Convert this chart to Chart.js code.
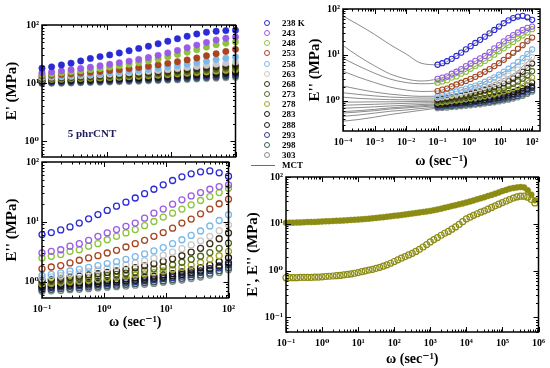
<!DOCTYPE html>
<html>
<head>
<meta charset="utf-8">
<script src="https://cdn.jsdelivr.net/npm/chart.js@4"></script>
<style>
html, body { margin: 0; padding: 0; background: #fff; }
body { width: 550px; height: 368px; position: relative; overflow: hidden; }
canvas { position: absolute; }
.row { position: absolute; left: 262px; height: 10px; line-height: 10px; white-space: nowrap;
       font: bold 9px 'Liberation Serif', 'DejaVu Serif', serif; color: #000; }
.dot { position: absolute; left: 2px; top: 2px; width: 4px; height: 4px; border-radius: 50%; border: 1.3px solid; }
.lbl { position: absolute; left: 20px; top: 0; }
</style>
</head>
<body>
<canvas id="tl" width="240" height="166" style="left:0;top:0"></canvas>
<canvas id="bl" width="240" height="192" style="left:0;top:140px"></canvas>
<canvas id="tr" width="250" height="170" style="left:300px;top:0"></canvas>
<canvas id="br" width="310" height="200" style="left:240px;top:168px"></canvas>
<div id="legend"></div>
<script>
// frequency of the isothermal sweeps (rad/s)
const freq = [0.1, 0.141, 0.2, 0.282, 0.398, 0.562, 0.794, 1.12, 1.58, 2.24, 3.16, 4.47, 6.31, 8.91, 12.6, 17.8, 25.1, 35.5, 50.1, 70.8, 100];
const temps = ['238 K', '243', '248', '253', '258', '263', '268', '273', '278', '283', '288', '293', '298', '303'];
const tempColors = ['#2b2bd6', '#9a5ce6', '#8cc43a', '#a8441e', '#7cb8ec', '#c8c8c8', '#3a2c14',
                    '#4e6a1e', '#a4a428', '#141414', '#1c1c1c', '#34348e', '#2e5e5e', '#8a8a8a'];

// E' (MPa), one row per temperature
const storageByTemp = [
  [18, 19, 20.5, 22, 24, 26.5, 28.5, 30.5, 33, 36, 39.5, 43, 47.5, 52.5, 58, 64, 70, 75, 78, 80, 81],
  [15, 15.5, 16.2, 17, 17.8, 18.7, 19.8, 21, 22.3, 23.8, 25.5, 27.5, 30, 33, 36.5, 40.5, 45, 50, 55, 59, 62],
  [14, 14.4, 15, 15.6, 16.2, 17, 17.8, 18.8, 19.8, 21, 22.4, 24, 26, 28.3, 31, 34, 37.5, 41.5, 45.5, 48.5, 51],
  [13.3, 13.6, 14, 14.4, 14.8, 15.3, 15.8, 16.4, 17, 17.7, 18.5, 19.4, 20.5, 21.8, 23.3, 25, 27, 29.5, 32, 35, 38],
  [12.8, 13, 13.3, 13.6, 13.9, 14.2, 14.6, 15, 15.5, 16, 16.6, 17.2, 18, 18.9, 19.9, 21, 22.3, 23.8, 25.3, 26.8, 28],
  [12.4, 12.6, 12.8, 13, 13.3, 13.6, 13.9, 14.2, 14.6, 15, 15.4, 15.9, 16.4, 17, 17.7, 18.5, 19.3, 20.2, 21.1, 22, 23],
  [12.2, 12.3, 12.5, 12.7, 12.9, 13.1, 13.3, 13.6, 13.9, 14.2, 14.5, 14.9, 15.3, 15.8, 16.3, 16.9, 17.5, 18.1, 18.8, 19.4, 20],
  [11.8, 11.9, 12.1, 12.2, 12.4, 12.6, 12.8, 13, 13.2, 13.5, 13.8, 14.1, 14.4, 14.8, 15.2, 15.7, 16.2, 16.7, 17.3, 17.9, 18.5],
  [11.4, 11.5, 11.6, 11.8, 11.9, 12.1, 12.2, 12.4, 12.6, 12.8, 13.1, 13.3, 13.6, 13.9, 14.3, 14.7, 15.1, 15.5, 16, 16.5, 17],
  [11, 11.1, 11.2, 11.3, 11.5, 11.6, 11.8, 11.9, 12.1, 12.3, 12.5, 12.7, 13, 13.2, 13.5, 13.8, 14.2, 14.6, 15, 15.5, 16],
  [10.7, 10.8, 10.9, 11, 11.1, 11.2, 11.4, 11.5, 11.7, 11.8, 12, 12.2, 12.4, 12.6, 12.9, 13.2, 13.5, 13.8, 14.2, 14.6, 15],
  [10.4, 10.5, 10.6, 10.7, 10.8, 10.9, 11, 11.1, 11.3, 11.4, 11.6, 11.8, 12, 12.2, 12.4, 12.6, 12.9, 13.2, 13.5, 13.8, 14.2],
  [10.1, 10.2, 10.2, 10.3, 10.4, 10.5, 10.6, 10.7, 10.9, 11, 11.1, 11.3, 11.4, 11.6, 11.8, 12, 12.2, 12.5, 12.7, 13, 13.3],
  [9.8, 9.9, 9.9, 10, 10.1, 10.2, 10.3, 10.4, 10.5, 10.6, 10.7, 10.9, 11, 11.2, 11.3, 11.5, 11.7, 11.9, 12.1, 12.3, 12.5]
];

// E'' (MPa), one row per temperature
const lossByTemp = [
  [6.1, 6.6, 7.3, 8.2, 9.5, 11.2, 13.2, 15.5, 18.2, 21.3, 25, 29.5, 35, 41.5, 49, 56.5, 63.5, 68.5, 71, 66, 58],
  [3.0, 3.2, 3.4, 3.9, 4.3, 4.9, 5.7, 6.5, 7.4, 8.4, 9.5, 11.5, 13.9, 16.3, 19.7, 23.3, 27.1, 30.8, 35, 38.8, 41.4],
  [2.48, 2.64, 2.82, 3.2, 3.4, 3.9, 4.3, 5.0, 5.7, 6.5, 7.4, 8.6, 10.1, 12.0, 13.9, 16.3, 19.2, 22.7, 26.4, 30.8, 36.4],
  [1.63, 1.75, 1.85, 2.05, 2.27, 2.48, 2.71, 3.0, 3.33, 3.78, 4.3, 4.9, 5.7, 6.6, 7.8, 9.5, 11.1, 13.6, 16.3, 20, 23.9],
  [1.26, 1.32, 1.4, 1.5, 1.6, 1.72, 1.85, 2.0, 2.15, 2.35, 2.6, 2.9, 3.25, 3.7, 4.3, 5.0, 5.9, 7.0, 8.5, 10.5, 13.1],
  [1.15, 1.2, 1.26, 1.33, 1.4, 1.48, 1.57, 1.67, 1.78, 1.9, 2.05, 2.22, 2.45, 2.75, 3.1, 3.55, 4.1, 4.8, 5.7, 7.1, 8.9],
  [1.05, 1.09, 1.13, 1.18, 1.23, 1.29, 1.35, 1.42, 1.5, 1.59, 1.7, 1.83, 1.98, 2.17, 2.4, 2.7, 3.1, 3.6, 4.3, 5.2, 6.5],
  [0.98, 1.01, 1.04, 1.08, 1.12, 1.16, 1.21, 1.26, 1.32, 1.38, 1.45, 1.53, 1.63, 1.75, 1.9, 2.1, 2.35, 2.65, 3.05, 3.6, 4.4],
  [0.92, 0.94, 0.97, 1.0, 1.03, 1.06, 1.1, 1.14, 1.18, 1.23, 1.28, 1.34, 1.41, 1.5, 1.6, 1.72, 1.88, 2.08, 2.35, 2.7, 3.2],
  [0.86, 0.88, 0.9, 0.92, 0.95, 0.97, 1.0, 1.03, 1.06, 1.1, 1.14, 1.18, 1.23, 1.29, 1.36, 1.45, 1.56, 1.7, 1.88, 2.15, 2.5],
  [0.82, 0.83, 0.85, 0.87, 0.89, 0.91, 0.93, 0.96, 0.99, 1.02, 1.05, 1.09, 1.13, 1.18, 1.24, 1.31, 1.4, 1.51, 1.64, 1.82, 2.05],
  [0.78, 0.79, 0.81, 0.83, 0.85, 0.87, 0.89, 0.91, 0.94, 0.97, 1.0, 1.03, 1.07, 1.12, 1.17, 1.23, 1.31, 1.41, 1.53, 1.69, 1.9],
  [0.73, 0.74, 0.76, 0.77, 0.79, 0.81, 0.83, 0.85, 0.87, 0.9, 0.93, 0.96, 0.99, 1.03, 1.08, 1.13, 1.2, 1.28, 1.38, 1.52, 1.7],
  [0.69, 0.7, 0.71, 0.73, 0.74, 0.76, 0.78, 0.8, 0.82, 0.84, 0.87, 0.9, 0.93, 0.97, 1.01, 1.06, 1.12, 1.19, 1.28, 1.41, 1.58]
];

// MCT fit curves for E''
const mctFreq = [1e-4, 3e-4, 1e-3, 3e-3, 1e-2, 3e-2, 0.1, 0.3, 1, 3, 10, 30, 100];
const mctByTemp = [
  [70, 46, 28, 17, 10.5, 6.6, 6.1, 8.4, 14.7, 24.4, 44, 66, 58],
  [16, 9.5, 5.8, 3.9, 3.0, 2.7, 3.0, 3.95, 6.2, 9.3, 17.4, 29, 41.4],
  [8.4, 5.8, 4.0, 3.0, 2.5, 2.35, 2.48, 3.25, 4.75, 7.3, 12.6, 21, 36.4],
  [4.4, 3.3, 2.5, 2.0, 1.72, 1.6, 1.63, 2.1, 2.9, 4.2, 6.9, 11.2, 23.9],
  [2.1, 1.8, 1.55, 1.4, 1.3, 1.25, 1.26, 1.52, 1.95, 2.55, 3.9, 5.9, 13.1],
  [1.5, 1.38, 1.28, 1.21, 1.17, 1.15, 1.15, 1.34, 1.64, 2.02, 2.85, 4.1, 8.9],
  [1.2, 1.13, 1.09, 1.06, 1.05, 1.04, 1.05, 1.19, 1.4, 1.68, 2.25, 3.1, 6.5],
  [0.94, 0.94, 0.95, 0.95, 0.96, 0.97, 0.98, 1.08, 1.24, 1.44, 1.8, 2.35, 4.4],
  [0.8, 0.82, 0.84, 0.86, 0.88, 0.9, 0.92, 1.0, 1.13, 1.27, 1.53, 1.88, 3.2],
  [0.69, 0.71, 0.74, 0.77, 0.8, 0.83, 0.86, 0.92, 1.02, 1.13, 1.31, 1.56, 2.5],
  [0.58, 0.61, 0.65, 0.7, 0.74, 0.78, 0.82, 0.87, 0.95, 1.04, 1.2, 1.4, 2.05],
  [0.54, 0.57, 0.61, 0.66, 0.7, 0.74, 0.78, 0.83, 0.9, 0.99, 1.13, 1.31, 1.9],
  [0.46, 0.49, 0.54, 0.59, 0.63, 0.68, 0.73, 0.77, 0.84, 0.92, 1.04, 1.2, 1.7],
  [0.36, 0.39, 0.44, 0.5, 0.56, 0.62, 0.69, 0.73, 0.79, 0.86, 0.98, 1.12, 1.58]
];

// master curve (shifted frequency)
const masterFreq = [
  0.1, 0.126, 0.158, 0.2, 0.251, 0.316, 0.398, 0.501, 0.631, 0.794,
  1, 1.26, 1.58, 2, 2.51, 3.16, 3.98, 5.01, 6.31, 7.94,
  10, 12.6, 15.8, 20, 25.1, 31.6, 39.8, 50.1, 63.1, 79.4,
  100, 126, 158, 200, 251, 316, 398, 501, 631, 794,
  1000, 1260, 1580, 2000, 2510, 3160, 3980, 5010, 6310, 7940,
  1e4, 1.26e4, 1.58e4, 2e4, 2.51e4, 3.16e4, 3.98e4, 5.01e4, 6.31e4, 7.94e4,
  1e5, 1.26e5, 1.58e5, 2e5, 2.51e5, 3.16e5, 3.98e5, 5.01e5, 6.31e5, 7.94e5
];
const masterStorage = [
  10.5, 10.6, 10.6, 10.7, 10.7, 10.8, 10.9, 10.9, 11.0, 11.1,
  11.2, 11.3, 11.4, 11.5, 11.6, 11.7, 11.8, 11.9, 12.1, 12.2,
  12.3, 12.5, 12.7, 12.9, 13.1, 13.4, 13.6, 13.9, 14.2, 14.5,
  14.8, 15.1, 15.4, 15.8, 16.2, 16.6, 17.0, 17.5, 17.9, 18.4,
  18.9, 19.6, 20.3, 21.1, 22.0, 23.0, 24.0, 25.0, 26.1, 27.3,
  28.5, 30.0, 31.6, 33.3, 35.1, 37.0, 39.2, 41.5, 44.0, 46.8,
  50, 53, 56, 58, 60, 61, 60, 52, 42, 32
];
const masterLoss = [
  0.71, 0.71, 0.71, 0.71, 0.72, 0.72, 0.72, 0.72, 0.73, 0.73,
  0.74, 0.75, 0.76, 0.77, 0.78, 0.79, 0.81, 0.83, 0.85, 0.88,
  0.91, 0.95, 0.99, 1.03, 1.07, 1.12, 1.18, 1.25, 1.33, 1.44,
  1.57, 1.7, 1.85, 2.0, 2.17, 2.35, 2.58, 2.85, 3.2, 3.6,
  4.1, 4.6, 5.1, 5.7, 6.3, 6.9, 7.7, 8.6, 9.7, 11.1,
  12.7, 13.9, 15.2, 16.4, 17.7, 19.0, 20.6, 22.4, 24.2, 26.3,
  28.5, 30.7, 33, 35.5, 37.5, 39, 39, 37, 33, 28
];

// labelled decades of each axis
const sweepFreqTicks = [0.1, 1, 10, 100];
const sweepModTicks = [1, 10, 100];
const mctFreqTicks = [1e-4, 1e-3, 1e-2, 1e-1, 1, 10, 100];
const mctModTicks = [1, 10, 100];
const masterFreqTicks = [0.1, 1, 10, 100, 1e3, 1e4, 1e5, 1e6];
const masterModTicks = [0.1, 1, 10, 100];

const serif = "'Liberation Serif', 'DejaVu Serif', serif";
const tickFont = {family: serif, size: 10, weight: 'bold'};
const olive = '#8c8c14';

const sup = {'-': '⁻', '0': '⁰', '1': '¹', '2': '²', '3': '³', '4': '⁴', '5': '⁵', '6': '⁶'};
function isPow10(v) {
  const l = Math.log10(v);
  return Math.abs(l - Math.round(l)) < 1e-6;
}
function powLabel(v) {
  const e = String(Math.round(Math.log10(v)));
  return '10' + e.split('').map(c => sup[c]).join('');
}
function decadeTicks(min, max) {
  const out = [];
  for (let e = Math.floor(Math.log10(min)); e <= Math.ceil(Math.log10(max)); e++) {
    for (let k = 1; k <= 9; k++) {
      const v = k * Math.pow(10, e);
      if (v >= min * 0.9999 && v <= max * 1.0001) out.push(v);
    }
  }
  return out;
}

function logAxis(min, max, majors, o) {
  return {
    type: 'logarithmic',
    position: o.pos,
    min: min,
    max: max,
    afterBuildTicks: s => { s.ticks = decadeTicks(min, max).map(v => ({value: v})); },
    afterFit: s => { if (o.pos === 'left') s.width = o.size; else s.height = o.size; },
    grid: {display: false, drawTicks: false},
    border: {display: false},
    ticks: {
      display: o.labels !== false,
      autoSkip: false, maxRotation: 0, minRotation: 0,
      padding: o.pad || 3,
      color: '#000',
      font: tickFont,
      callback: v => majors.some(m => Math.abs(v / m - 1) < 1e-6) ? powLabel(v) : ''
    },
    title: {
      display: !!o.title,
      text: o.title || '',
      color: '#000',
      font: {family: serif, size: o.tsize || 15, weight: 'bold'},
      padding: {top: o.tpad || 0, bottom: o.tpad || 0}
    }
  };
}

// box with inward major/minor ticks on all four sides
const frameTicks = {
  id: 'frameTicks',
  afterDatasetsDraw(chart) {
    const {ctx, chartArea: a, scales} = chart;
    ctx.save();
    ctx.strokeStyle = '#000';
    ctx.lineWidth = 1;
    ctx.beginPath();
    scales.x.ticks.forEach(t => {
      const p = Math.round(scales.x.getPixelForValue(t.value)) + 0.5;
      const len = isPow10(t.value) ? 5 : 2.5;
      ctx.moveTo(p, a.bottom); ctx.lineTo(p, a.bottom - len);
      ctx.moveTo(p, a.top); ctx.lineTo(p, a.top + len);
    });
    scales.y.ticks.forEach(t => {
      const p = Math.round(scales.y.getPixelForValue(t.value)) + 0.5;
      const len = isPow10(t.value) ? 5 : 2.5;
      ctx.moveTo(a.left, p); ctx.lineTo(a.left + len, p);
      ctx.moveTo(a.right, p); ctx.lineTo(a.right - len, p);
    });
    ctx.stroke();
    ctx.lineWidth = 1.5;
    ctx.strokeRect(a.left, a.top, a.right - a.left, a.bottom - a.top);
    ctx.restore();
  }
};

const sampleNote = {
  id: 'sampleNote',
  afterDatasetsDraw(chart) {
    const {ctx, scales} = chart;
    ctx.save();
    ctx.font = 'bold 11px ' + serif;
    ctx.fillStyle = '#1c1c5c';
    ctx.textBaseline = 'middle';
    ctx.fillText('5 phrCNT', scales.x.getPixelForValue(0.25), scales.y.getPixelForValue(1.3));
    ctx.restore();
  }
};

function pts(xs, ys) {
  return xs.map((x, i) => ({x: x, y: ys[i]}));
}

function panel(id, datasets, xAxis, yAxis, padding, extra) {
  return new Chart(document.getElementById(id), {
    type: 'scatter',
    data: {datasets: datasets},
    options: {
      responsive: false,
      animation: false,
      devicePixelRatio: 1,
      layout: {padding: padding},
      plugins: {legend: {display: false}, tooltip: {enabled: false}},
      scales: {x: xAxis, y: yAxis}
    },
    plugins: [frameTicks].concat(extra || [])
  });
}

// top left: E'
panel('tl',
  storageByTemp.map((vals, i) => ({
    data: pts(freq, vals),
    pointRadius: 3.2,
    pointBackgroundColor: tempColors[i],
    pointBorderColor: tempColors[i],
    pointBorderWidth: 0.5,
    clip: false
  })),
  logAxis(0.1, 100, sweepFreqTicks, {pos: 'bottom', size: 0, labels: false}),
  logAxis(0.53, 100, sweepModTicks, {pos: 'left', size: 42, title: "E' (MPa)", tpad: 3}),
  {top: 25, right: 4, bottom: 4, left: 0},
  [sampleNote]);

// bottom left: E''
panel('bl',
  lossByTemp.map((vals, i) => ({
    data: pts(freq, vals),
    pointRadius: 3,
    pointBackgroundColor: 'rgba(0,0,0,0)',
    pointBorderColor: tempColors[i],
    pointBorderWidth: 1.3,
    clip: false
  })),
  logAxis(0.1, 100, sweepFreqTicks, {pos: 'bottom', size: 34, pad: 5, title: 'ω (sec⁻¹)', tsize: 14, tpad: 1}),
  logAxis(0.53, 100, sweepModTicks, {pos: 'left', size: 42, title: "E'' (MPa)", tpad: 3}),
  {top: 22, right: 4, bottom: 0, left: 0});

// top right: E'' with MCT fits
panel('tr',
  lossByTemp.map((vals, i) => ({
    data: pts(freq, vals),
    pointRadius: 2.6,
    pointBackgroundColor: 'rgba(0,0,0,0)',
    pointBorderColor: tempColors[i],
    pointBorderWidth: 1.1,
    order: 0,
    clip: false
  })).concat(mctByTemp.map(vals => ({
    data: pts(mctFreq, vals),
    showLine: true,
    pointRadius: 0,
    borderColor: '#6e6e6e',
    borderWidth: 0.8,
    cubicInterpolationMode: 'monotone',
    order: 1
  }))),
  logAxis(1e-4, 178, mctFreqTicks, {pos: 'bottom', size: 39, pad: 5, title: 'ω (sec⁻¹)', tsize: 14, tpad: 0}),
  logAxis(0.22, 100, mctModTicks, {pos: 'left', size: 43, title: "E'' (MPa)", tpad: 6}),
  {top: 6, right: 10, bottom: 0, left: 0});

// bottom right: master curves
panel('br',
  [{
    data: pts(masterFreq, masterStorage),
    pointRadius: 3,
    pointBackgroundColor: olive,
    pointBorderColor: olive,
    pointBorderWidth: 0.5,
    clip: false
  }, {
    data: pts(masterFreq, masterLoss),
    pointRadius: 3,
    pointBackgroundColor: 'rgba(0,0,0,0)',
    pointBorderColor: olive,
    pointBorderWidth: 1.2,
    clip: false
  }],
  logAxis(0.1, 1e6, masterFreqTicks, {pos: 'bottom', size: 36, pad: 5, title: 'ω (sec⁻¹)', tsize: 14, tpad: 0}),
  logAxis(0.049, 100, masterModTicks, {pos: 'left', size: 46, title: "E', E'' (MPa)", tpad: 4}),
  {top: 7, right: 10, bottom: 0, left: 0});

// legend between the top panels
const legend = document.getElementById('legend');
temps.forEach((t, i) => {
  const row = document.createElement('div');
  row.className = 'row';
  row.style.top = (18 + i * 10.15) + 'px';
  row.innerHTML = '<span class="dot" style="border-color:' + tempColors[i] + '"></span><span class="lbl">' + t + '</span>';
  legend.appendChild(row);
});
const mctRow = document.createElement('div');
mctRow.className = 'row';
mctRow.style.top = (18 + 14 * 10.15) + 'px';
mctRow.style.left = '251px';
mctRow.innerHTML = '<span style="position:absolute;left:0;top:5px;width:24px;border-top:1px solid #6e6e6e"></span><span class="lbl" style="left:31px">MCT</span>';
legend.appendChild(mctRow);
</script>
</body>
</html>
